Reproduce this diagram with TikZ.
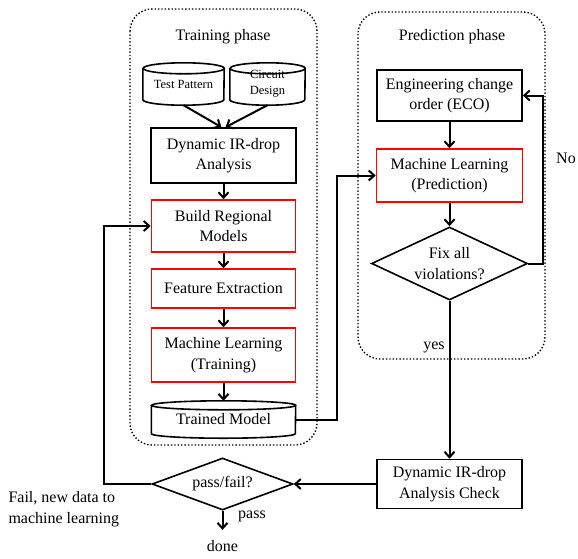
\documentclass[tikz,border=0pt]{standalone}
\usepackage{fontspec}
\setmainfont{Liberation Serif}
\usetikzlibrary{shapes.geometric,arrows.meta}

\begin{document}
\begin{tikzpicture}[x=1pt,y=-1pt,>={Straight Barb[length=5.5pt,width=10pt]},
    every node/.style={font=\fontsize{16}{20.5}\selectfont},
    blk/.style={draw,line width=1.6pt,align=center,inner sep=0},
    redblk/.style={blk,draw=red},
    cylnode/.style={align=center,inner sep=0,font=\fontsize{12.5}{16}\selectfont},
    dec/.style={draw,diamond,line width=1.6pt,align=center,inner sep=0},
    frame/.style={dotted,line width=1.4pt,rounded corners=22},
    flow/.style={->,line width=2pt}]
\useasboundingbox (0,0) rectangle (578,558);

% phase frames
\draw[frame] (130,9) rectangle (317,445);
\draw[frame] (358,12) rectangle (545,359);
\node (train) at (223,37) {Training phase};
\node (pred) at (452,37) {Prediction phase};

% training phase
\node[cylnode,minimum width=81,minimum height=42] (tp) at (183.5,84) {Test Pattern};
\node[cylnode,minimum width=75,minimum height=42] (cd) at (267.5,84) {Circuit\\Design};
\node[blk,minimum width=145,minimum height=55] (dyn) at (223.5,155.5) {Dynamic IR-drop\\Analysis};
\node[redblk,minimum width=144,minimum height=52] (brm) at (223.5,226) {Build Regional\\Models};
\node[redblk,minimum width=144,minimum height=39] (fe) at (223.5,288.5) {Feature Extraction};
\node[redblk,minimum width=144,minimum height=54] (mlt) at (223.5,355) {Machine Learning\\(Training)};
\node[cylnode,font=\fontsize{16}{20}\selectfont,minimum width=144,minimum height=37] (tm) at (223.5,419.5) {Trained Model};
\foreach \n/\rx/\ry in {tp/40.5/5.5,cd/37.5/5.5,tm/72/4.5}
{
    \draw[line width=1.6pt] ([yshift=-\ry pt]\n.north west) -- ([yshift=\ry pt]\n.south west)
        arc[start angle=180,end angle=360,x radius=\rx pt,y radius=\ry pt]
        -- ([yshift=-\ry pt]\n.north east)
        arc[start angle=0,end angle=360,x radius=\rx pt,y radius=\ry pt];
}

% prediction phase
\node[blk,minimum width=145,minimum height=51] (eco) at (449.5,95.5) {Engineering change\\order (ECO)};
\node[redblk,minimum width=146,minimum height=53] (mlp) at (449.5,175.5) {Machine Learning\\(Prediction)};
\node[dec,minimum width=156,minimum height=73,aspect=2.14] (fix) at (449.5,263.5) {Fix all\\violations?};

% check
\node[blk,minimum width=145,minimum height=49] (chk) at (449.5,484) {Dynamic IR-drop\\Analysis Check};
\node[dec,minimum width=141,minimum height=52,aspect=2.7] (pf) at (222.5,484) {pass/fail?};
\node (done) at (222.5,546) {done};
\node (yes) at (434,347) {yes};
\node (pass) at (252,516) {pass};
\node (no) at (566,158) {No};
\node[align=left,anchor=west] (fail) at (5,509) {Fail, new data to\\machine learning};

\draw[flow] (tp.south) -- ([xshift=-2pt]dyn.north);
\draw[flow] (cd.south) -- ([xshift=2pt]dyn.north);
\draw[flow] (dyn) -- (brm);
\draw[flow] (brm) -- (fe);
\draw[flow] (fe) -- (mlt);
\draw[flow] (mlt) -- (tm);
\draw[flow] (tm.east) -- ++(41,0) |- (mlp.west);
\draw[flow] (eco) -- (mlp);
\draw[flow] (mlp) -- (fix);
\draw[flow] (fix.east) -- ++(15,0) |- (eco.east);
\draw[flow] (fix) -- (chk);
\draw[flow] (chk) -- (pf);
\draw[flow] (pf.west) -- ++(-47,0) |- (brm.west);
\draw[flow] (pf) -- ([yshift=7pt]done.north);
\end{tikzpicture}
\end{document}
